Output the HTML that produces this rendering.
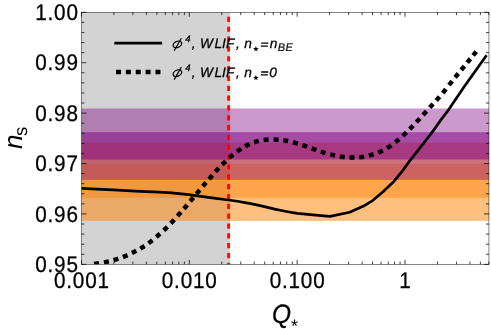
<!DOCTYPE html>
<html><head><meta charset="utf-8"><title>plot</title>
<style>html,body{margin:0;padding:0;background:#fff;}body{width:491px;height:329px;overflow:hidden;}svg{display:block;will-change:transform;}text{font-family:"Liberation Sans",sans-serif;fill:#000;text-rendering:geometricPrecision;}</style>
</head><body>
<svg width="491" height="329" viewBox="0 0 491 329">
<rect x="0" y="0" width="491" height="329" fill="#fff"/>
<defs><clipPath id="c"><rect x="81.45" y="12.3" width="407.5" height="252.05"/></clipPath></defs>
<g clip-path="url(#c)">
<rect x="81.45" y="12.3" width="148.75" height="252.05" fill="#d3d3d3"/>
<rect x="81.45" y="142.5" width="407.5" height="78.4" fill="rgb(255,128,0)" fill-opacity="0.5"/>
<rect x="81.45" y="163.7" width="407.5" height="34.150000000000006" fill="rgb(255,128,0)" fill-opacity="0.4"/>
<rect x="81.45" y="108.45" width="407.5" height="71.45" fill="rgb(128,0,128)" fill-opacity="0.4"/>
<rect x="81.45" y="132.2" width="407.5" height="27.30000000000001" fill="rgb(128,0,128)" fill-opacity="0.5"/>
<line x1="228.6" y1="16.8" x2="228.6" y2="270" stroke="#ff0000" stroke-width="2.7" stroke-dasharray="5.2 4.64"/>
<path fill="none" stroke="#000" stroke-width="2.7" stroke-linejoin="round" d="M81.30,188.35C91.08,188.84 124.95,190.53 140.00,191.30C155.05,192.07 161.43,192.12 171.60,192.95C181.77,193.78 191.53,195.12 201.00,196.30C210.47,197.48 221.07,198.95 228.40,200.00C235.73,201.05 239.73,201.67 245.00,202.60C250.27,203.53 254.35,204.37 260.00,205.60C265.65,206.83 272.69,208.69 278.90,210.00C285.11,211.31 294.19,212.88 297.25,213.45L321,215.6L330.1,216.35L349.7,212.2L363.6,206.1L373,200.3L383,191.7L393.9,181.4L402.3,171.2L409.5,161.1L418.4,149.8L432.6,131.6L441.1,119.6L448.4,110L464.5,86.3L486.6,55.2"/>
<rect x="-2.5" y="-2.25" width="5.0" height="4.5" fill="#000" transform="translate(96.55,263.57) rotate(-9.5)"/>
<rect x="-2.5" y="-2.25" width="5.0" height="4.5" fill="#000" transform="translate(106.41,261.91) rotate(-12.1)"/>
<rect x="-2.5" y="-2.25" width="5.0" height="4.5" fill="#000" transform="translate(115.96,259.43) rotate(-17.1)"/>
<rect x="-2.5" y="-2.25" width="5.0" height="4.5" fill="#000" transform="translate(125.25,256.12) rotate(-22.4)"/>
<rect x="-2.5" y="-2.25" width="5.0" height="4.5" fill="#000" transform="translate(134.12,251.94) rotate(-27.2)"/>
<rect x="-2.5" y="-2.25" width="5.0" height="4.5" fill="#000" transform="translate(142.46,247.29) rotate(-31.9)"/>
<rect x="-2.5" y="-2.25" width="5.0" height="4.5" fill="#000" transform="translate(150.50,241.73) rotate(-37.1)"/>
<rect x="-2.5" y="-2.25" width="5.0" height="4.5" fill="#000" transform="translate(158.17,235.41) rotate(-40.9)"/>
<rect x="-2.5" y="-2.25" width="5.0" height="4.5" fill="#000" transform="translate(165.60,228.64) rotate(-44.1)"/>
<rect x="-2.5" y="-2.25" width="5.0" height="4.5" fill="#000" transform="translate(172.51,221.52) rotate(-46.7)"/>
<rect x="-2.5" y="-2.25" width="5.0" height="4.5" fill="#000" transform="translate(179.18,214.23) rotate(-48.3)"/>
<rect x="-2.5" y="-2.25" width="5.0" height="4.5" fill="#000" transform="translate(185.54,206.89) rotate(-49.5)"/>
<rect x="-2.5" y="-2.25" width="5.0" height="4.5" fill="#000" transform="translate(191.84,199.38) rotate(-50.0)"/>
<rect x="-2.5" y="-2.25" width="5.0" height="4.5" fill="#000" transform="translate(198.08,191.92) rotate(-49.9)"/>
<rect x="-2.5" y="-2.25" width="5.0" height="4.5" fill="#000" transform="translate(204.43,184.43) rotate(-49.3)"/>
<rect x="-2.5" y="-2.25" width="5.0" height="4.5" fill="#000" transform="translate(210.74,177.22) rotate(-49.1)"/>
<rect x="-2.5" y="-2.25" width="5.0" height="4.5" fill="#000" transform="translate(217.10,169.81) rotate(-47.5)"/>
<rect x="-2.5" y="-2.25" width="5.0" height="4.5" fill="#000" transform="translate(223.93,162.84) rotate(-44.2)"/>
<rect x="-2.5" y="-2.25" width="5.0" height="4.5" fill="#000" transform="translate(231.21,156.06) rotate(-39.8)"/>
<rect x="-2.5" y="-2.25" width="5.0" height="4.5" fill="#000" transform="translate(239.11,150.18) rotate(-34.4)"/>
<rect x="-2.5" y="-2.25" width="5.0" height="4.5" fill="#000" transform="translate(247.23,145.11) rotate(-26.5)"/>
<rect x="-2.5" y="-2.25" width="5.0" height="4.5" fill="#000" transform="translate(256.40,141.56) rotate(-16.0)"/>
<rect x="-2.5" y="-2.25" width="5.0" height="4.5" fill="#000" transform="translate(266.09,139.69) rotate(-5.8)"/>
<rect x="-2.5" y="-2.25" width="5.0" height="4.5" fill="#000" transform="translate(276.08,139.55) rotate(2.7)"/>
<rect x="-2.5" y="-2.25" width="5.0" height="4.5" fill="#000" transform="translate(285.73,140.62) rotate(9.9)"/>
<rect x="-2.5" y="-2.25" width="5.0" height="4.5" fill="#000" transform="translate(295.42,142.92) rotate(15.5)"/>
<rect x="-2.5" y="-2.25" width="5.0" height="4.5" fill="#000" transform="translate(304.80,145.93) rotate(18.8)"/>
<rect x="-2.5" y="-2.25" width="5.0" height="4.5" fill="#000" transform="translate(313.95,149.23) rotate(19.3)"/>
<rect x="-2.5" y="-2.25" width="5.0" height="4.5" fill="#000" transform="translate(323.14,152.34) rotate(17.1)"/>
<rect x="-2.5" y="-2.25" width="5.0" height="4.5" fill="#000" transform="translate(332.64,154.97) rotate(13.3)"/>
<rect x="-2.5" y="-2.25" width="5.0" height="4.5" fill="#000" transform="translate(342.31,156.86) rotate(7.7)"/>
<rect x="-2.5" y="-2.25" width="5.0" height="4.5" fill="#000" transform="translate(352.00,157.59) rotate(0.5)"/>
<rect x="-2.5" y="-2.25" width="5.0" height="4.5" fill="#000" transform="translate(361.61,157.04) rotate(-7.8)"/>
<rect x="-2.5" y="-2.25" width="5.0" height="4.5" fill="#000" transform="translate(371.28,154.96) rotate(-16.1)"/>
<rect x="-2.5" y="-2.25" width="5.0" height="4.5" fill="#000" transform="translate(380.55,151.57) rotate(-24.6)"/>
<rect x="-2.5" y="-2.25" width="5.0" height="4.5" fill="#000" transform="translate(389.15,146.76) rotate(-32.9)"/>
<rect x="-2.5" y="-2.25" width="5.0" height="4.5" fill="#000" transform="translate(397.20,140.79) rotate(-39.1)"/>
<rect x="-2.5" y="-2.25" width="5.0" height="4.5" fill="#000" transform="translate(404.64,134.18) rotate(-43.3)"/>
<rect x="-2.5" y="-2.25" width="5.0" height="4.5" fill="#000" transform="translate(411.46,127.36) rotate(-45.7)"/>
<rect x="-2.5" y="-2.25" width="5.0" height="4.5" fill="#000" transform="translate(418.09,120.41) rotate(-47.0)"/>
<rect x="-2.5" y="-2.25" width="5.0" height="4.5" fill="#000" transform="translate(424.79,113.05) rotate(-47.7)"/>
<rect x="-2.5" y="-2.25" width="5.0" height="4.5" fill="#000" transform="translate(431.43,105.75) rotate(-47.8)"/>
<rect x="-2.5" y="-2.25" width="5.0" height="4.5" fill="#000" transform="translate(437.91,98.60) rotate(-48.8)"/>
<rect x="-2.5" y="-2.25" width="5.0" height="4.5" fill="#000" transform="translate(444.32,91.05) rotate(-50.6)"/>
<rect x="-2.5" y="-2.25" width="5.0" height="4.5" fill="#000" transform="translate(450.57,83.18) rotate(-51.5)"/>
<rect x="-2.5" y="-2.25" width="5.0" height="4.5" fill="#000" transform="translate(456.74,75.46) rotate(-51.0)"/>
<rect x="-2.5" y="-2.25" width="5.0" height="4.5" fill="#000" transform="translate(462.83,68.02) rotate(-50.7)"/>
<rect x="-2.5" y="-2.25" width="5.0" height="4.5" fill="#000" transform="translate(468.82,60.71) rotate(-50.8)"/>
<rect x="-2.5" y="-2.25" width="5.0" height="4.5" fill="#000" transform="translate(474.69,53.51) rotate(-50.8)"/>
</g>
<line x1="114.3" y1="43.1" x2="162.1" y2="43.1" stroke="#000" stroke-width="2.6"/>
<line x1="116.05" y1="72" x2="161" y2="72" stroke="#000" stroke-width="4.3" stroke-dasharray="5 4.85"/>
<g transform="translate(0,0.00)"><ellipse cx="177.4" cy="44.4" rx="4.5" ry="3.0" transform="rotate(-25 177.4 44.4)" fill="none" stroke="#000" stroke-width="1.3"/><line x1="174.15" y1="50.8" x2="181.35" y2="38.2" stroke="#000" stroke-width="1.2"/></g>
<text x="185.35" y="41.75" font-size="9.5" font-style="italic" stroke="#000" stroke-width="0.25">4</text>
<text x="191.85" y="48.45" font-size="13.7" font-style="italic" stroke="#000" stroke-width="0.28">,</text>
<text x="199.97" y="48.45" font-size="13.7" font-style="italic" stroke="#000" stroke-width="0.28">W</text>
<text x="214.50" y="48.45" font-size="13.7" font-style="italic" stroke="#000" stroke-width="0.28">LIF</text>
<text x="236.00" y="48.45" font-size="13.7" font-style="italic" stroke="#000" stroke-width="0.28">,</text>
<text x="244.20" y="48.45" font-size="13.7" font-style="italic" stroke="#000" stroke-width="0.28">n</text>
<polygon points="255.90,46.10 256.63,47.99 258.66,48.10 257.09,49.39 257.60,51.35 255.90,50.25 254.20,51.35 254.71,49.39 253.14,48.10 255.17,47.99" fill="#000"/>
<path d="M261.2,43.15h7.1M260.8,46.10h7.1" stroke="#000" stroke-width="1.35" fill="none"/>
<text x="269.70" y="48.45" font-size="13.7" font-style="italic" stroke="#000" stroke-width="0.28">n</text>
<text x="277.75" y="51.45" font-size="11" font-style="italic" stroke="#000" stroke-width="0.2" letter-spacing="0.4">BE</text>
<g transform="translate(0,28.80)"><ellipse cx="177.4" cy="44.4" rx="4.5" ry="3.0" transform="rotate(-25 177.4 44.4)" fill="none" stroke="#000" stroke-width="1.3"/><line x1="174.15" y1="50.8" x2="181.35" y2="38.2" stroke="#000" stroke-width="1.2"/></g>
<text x="185.35" y="70.55" font-size="9.5" font-style="italic" stroke="#000" stroke-width="0.25">4</text>
<text x="191.85" y="77.25" font-size="13.7" font-style="italic" stroke="#000" stroke-width="0.28">,</text>
<text x="199.97" y="77.25" font-size="13.7" font-style="italic" stroke="#000" stroke-width="0.28">W</text>
<text x="214.50" y="77.25" font-size="13.7" font-style="italic" stroke="#000" stroke-width="0.28">LIF</text>
<text x="236.00" y="77.25" font-size="13.7" font-style="italic" stroke="#000" stroke-width="0.28">,</text>
<text x="244.20" y="77.25" font-size="13.7" font-style="italic" stroke="#000" stroke-width="0.28">n</text>
<polygon points="255.90,74.90 256.63,76.79 258.66,76.90 257.09,78.19 257.60,80.15 255.90,79.05 254.20,80.15 254.71,78.19 253.14,76.90 255.17,76.79" fill="#000"/>
<path d="M261.2,71.95h7.1M260.8,74.90h7.1" stroke="#000" stroke-width="1.35" fill="none"/>
<text x="269.36" y="77.25" font-size="13.7" font-style="italic" stroke="#000" stroke-width="0.28">0</text>
<path d="M81.45,12.30h4.9M488.95,12.30h-4.9M81.45,22.38h2.9M488.95,22.38h-2.9M81.45,32.46h2.9M488.95,32.46h-2.9M81.45,42.55h2.9M488.95,42.55h-2.9M81.45,52.63h2.9M488.95,52.63h-2.9M81.45,62.71h4.9M488.95,62.71h-4.9M81.45,72.79h2.9M488.95,72.79h-2.9M81.45,82.87h2.9M488.95,82.87h-2.9M81.45,92.96h2.9M488.95,92.96h-2.9M81.45,103.04h2.9M488.95,103.04h-2.9M81.45,113.12h4.9M488.95,113.12h-4.9M81.45,123.20h2.9M488.95,123.20h-2.9M81.45,133.28h2.9M488.95,133.28h-2.9M81.45,143.37h2.9M488.95,143.37h-2.9M81.45,153.45h2.9M488.95,153.45h-2.9M81.45,163.53h4.9M488.95,163.53h-4.9M81.45,173.61h2.9M488.95,173.61h-2.9M81.45,183.69h2.9M488.95,183.69h-2.9M81.45,193.78h2.9M488.95,193.78h-2.9M81.45,203.86h2.9M488.95,203.86h-2.9M81.45,213.94h4.9M488.95,213.94h-4.9M81.45,224.02h2.9M488.95,224.02h-2.9M81.45,234.10h2.9M488.95,234.10h-2.9M81.45,244.19h2.9M488.95,244.19h-2.9M81.45,254.27h2.9M488.95,254.27h-2.9M81.45,264.35h4.9M488.95,264.35h-4.9M81.45,264.35v-4.4M81.45,12.3v4.4M113.92,264.35v-2.8M113.92,12.3v2.8M132.91,264.35v-2.8M132.91,12.3v2.8M146.38,264.35v-2.8M146.38,12.3v2.8M156.83,264.35v-2.8M156.83,12.3v2.8M165.37,264.35v-2.8M165.37,12.3v2.8M172.59,264.35v-2.8M172.59,12.3v2.8M178.85,264.35v-2.8M178.85,12.3v2.8M184.37,264.35v-2.8M184.37,12.3v2.8M189.30,264.35v-4.4M189.30,12.3v4.4M221.77,264.35v-2.8M221.77,12.3v2.8M240.76,264.35v-2.8M240.76,12.3v2.8M254.23,264.35v-2.8M254.23,12.3v2.8M264.68,264.35v-2.8M264.68,12.3v2.8M273.22,264.35v-2.8M273.22,12.3v2.8M280.44,264.35v-2.8M280.44,12.3v2.8M286.70,264.35v-2.8M286.70,12.3v2.8M292.22,264.35v-2.8M292.22,12.3v2.8M297.15,264.35v-4.4M297.15,12.3v4.4M329.62,264.35v-2.8M329.62,12.3v2.8M348.61,264.35v-2.8M348.61,12.3v2.8M362.08,264.35v-2.8M362.08,12.3v2.8M372.53,264.35v-2.8M372.53,12.3v2.8M381.07,264.35v-2.8M381.07,12.3v2.8M388.29,264.35v-2.8M388.29,12.3v2.8M394.55,264.35v-2.8M394.55,12.3v2.8M400.07,264.35v-2.8M400.07,12.3v2.8M405.00,264.35v-4.4M405.00,12.3v4.4M437.47,264.35v-2.8M437.47,12.3v2.8M456.46,264.35v-2.8M456.46,12.3v2.8M469.93,264.35v-2.8M469.93,12.3v2.8M480.38,264.35v-2.8M480.38,12.3v2.8M488.92,264.35v-2.8M488.92,12.3v2.8" stroke="#000" stroke-width="0.75" fill="none"/>
<rect x="81.45" y="12.3" width="407.5" height="252.05" fill="none" stroke="#000" stroke-width="0.48"/>
<text transform="translate(78.7,20.05) scale(0.915,1)" font-size="22.6" letter-spacing="0.9" text-anchor="end" stroke="#000" stroke-width="0.3">1.00</text>
<text transform="translate(78.7,70.46) scale(0.915,1)" font-size="22.6" letter-spacing="0.9" text-anchor="end" stroke="#000" stroke-width="0.3">0.99</text>
<text transform="translate(78.7,120.87) scale(0.915,1)" font-size="22.6" letter-spacing="0.9" text-anchor="end" stroke="#000" stroke-width="0.3">0.98</text>
<text transform="translate(78.7,171.28) scale(0.915,1)" font-size="22.6" letter-spacing="0.9" text-anchor="end" stroke="#000" stroke-width="0.3">0.97</text>
<text transform="translate(78.7,221.69) scale(0.915,1)" font-size="22.6" letter-spacing="0.9" text-anchor="end" stroke="#000" stroke-width="0.3">0.96</text>
<text transform="translate(78.7,272.10) scale(0.915,1)" font-size="22.6" letter-spacing="0.9" text-anchor="end" stroke="#000" stroke-width="0.3">0.95</text>
<text transform="translate(81.85,287.5) scale(0.915,1)" font-size="22.6" letter-spacing="0.9" text-anchor="middle" stroke="#000" stroke-width="0.3">0.001</text>
<text transform="translate(189.70,287.5) scale(0.915,1)" font-size="22.6" letter-spacing="0.9" text-anchor="middle" stroke="#000" stroke-width="0.3">0.010</text>
<text transform="translate(297.55,287.5) scale(0.915,1)" font-size="22.6" letter-spacing="0.9" text-anchor="middle" stroke="#000" stroke-width="0.3">0.100</text>
<text transform="translate(405.40,287.5) scale(0.915,1)" font-size="22.6" letter-spacing="0.9" text-anchor="middle" stroke="#000" stroke-width="0.3">1</text>
<text transform="translate(272.1,322.7) scale(0.925,1)" font-size="26.5" font-style="italic" stroke="#000" stroke-width="0.3">Q</text><text x="291.0" y="332.4" font-size="18">*</text>
<text transform="translate(22.2,149.1) rotate(-90)" font-size="26" font-style="italic">n<tspan dy="5" dx="-1.3" font-size="18.5" font-style="normal">s</tspan></text>
</svg></body></html>
